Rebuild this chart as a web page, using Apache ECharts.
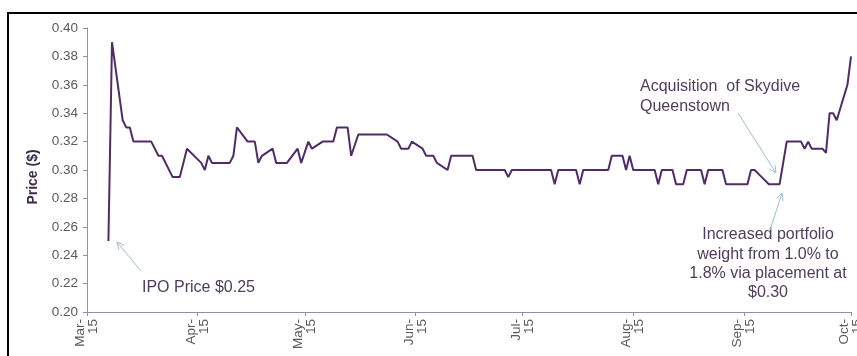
<!DOCTYPE html>
<html>
<head>
<meta charset="utf-8">
<script src="https://cdn.jsdelivr.net/npm/echarts@6/dist/echarts.min.js"></script>
<style>
html,body{margin:0;padding:0;background:#fff;}
#chart{width:857px;height:356px;}
</style>
</head>
<body>
<div id="chart"></div>
<script>
// ---- data ----
const axisStart = '2015-03-01';
const axisEnd = '2015-10-01';
const yTicks = [0.20, 0.22, 0.24, 0.26, 0.28, 0.30, 0.32, 0.34, 0.36, 0.38, 0.40];
const monthNames = ['Jan','Feb','Mar','Apr','May','Jun','Jul','Aug','Sep','Oct','Nov','Dec'];
const priceDates = [
  '2015-03-07','2015-03-08','2015-03-11','2015-03-12','2015-03-13','2015-03-14','2015-03-19','2015-03-21','2015-03-22','2015-03-25',
  '2015-03-27','2015-03-29','2015-04-02','2015-04-03','2015-04-04','2015-04-05','2015-04-10','2015-04-11','2015-04-12','2015-04-15',
  '2015-04-17','2015-04-18','2015-04-19','2015-04-22','2015-04-23','2015-04-26','2015-04-29','2015-04-30','2015-05-02','2015-05-03',
  '2015-05-06','2015-05-09','2015-05-10','2015-05-13','2015-05-14','2015-05-16','2015-05-24','2015-05-27','2015-05-28','2015-05-30',
  '2015-05-31','2015-06-03','2015-06-04','2015-06-06','2015-06-07','2015-06-10','2015-06-11','2015-06-17','2015-06-18','2015-06-26',
  '2015-06-27','2015-06-28','2015-07-09','2015-07-10','2015-07-11','2015-07-16','2015-07-17','2015-07-18','2015-07-25','2015-07-26',
  '2015-07-29','2015-07-30','2015-07-31','2015-08-01','2015-08-07','2015-08-08','2015-08-09','2015-08-12','2015-08-13','2015-08-15',
  '2015-08-16','2015-08-20','2015-08-21','2015-08-22','2015-08-26','2015-08-27','2015-09-02','2015-09-03','2015-09-04','2015-09-06',
  '2015-09-08','2015-09-11','2015-09-13','2015-09-17','2015-09-18','2015-09-19','2015-09-20','2015-09-23','2015-09-24','2015-09-25',
  '2015-09-26','2015-09-27','2015-09-30','2015-10-01'
];
const prices = [
  0.25,0.39,0.335,0.33,0.33,0.32,0.32,0.31,0.31,0.295,
  0.295,0.315,0.305,0.30,0.31,0.305,0.305,0.31,0.33,0.32,
  0.32,0.305,0.31,0.315,0.305,0.305,0.315,0.305,0.32,0.315,
  0.32,0.32,0.33,0.33,0.31,0.325,0.325,0.32,0.315,0.315,
  0.32,0.315,0.31,0.31,0.305,0.30,0.31,0.31,0.30,0.30,
  0.295,0.30,0.30,0.29,0.30,0.30,0.29,0.30,0.30,0.31,
  0.31,0.30,0.31,0.30,0.30,0.29,0.30,0.30,0.29,0.29,
  0.30,0.30,0.29,0.30,0.30,0.29,0.29,0.30,0.30,0.295,
  0.29,0.29,0.32,0.32,0.315,0.32,0.315,0.315,0.312,0.34,
  0.34,0.335,0.36,0.38
];
const yAxisTitle = 'Price ($)';
const noteIPO = 'IPO Price $0.25';
const noteAcq = 'Acquisition  of Skydive\nQueenstown';
const notePlacement = 'Increased portfolio\nweight from 1.0% to\n1.8% via placement at\n$0.30';

// ---- build calendar categories ----
function iso(d){ return d.toISOString().slice(0,10); }
const categories = [];
for (let d = new Date(axisStart + 'T00:00:00Z'); iso(d) <= axisEnd; d.setUTCDate(d.getUTCDate()+1)) {
  categories.push(iso(d));
}
const seriesData = priceDates.map((dt, i) => [categories.indexOf(dt), prices[i]]);

const isMonthStart = (idx, val) => val.slice(8) === '01';

// ---- annotation helpers ----
const arrowColor = '#9dbfd3';
const noteColor = '#4d3d5c';
function arrow(x1, y1, x2, y2) {
  const ang = Math.atan2(y2 - y1, x2 - x1), L = 8, a = Math.PI / 7;
  const p1 = [x2 - L * Math.cos(ang - a), y2 - L * Math.sin(ang - a)];
  const p2 = [x2 - L * Math.cos(ang + a), y2 - L * Math.sin(ang + a)];
  return [
    {type:'line', shape:{x1, y1, x2, y2}, style:{stroke:arrowColor, lineWidth:1}, z:10},
    {type:'polyline', shape:{points:[p1,[x2,y2],p2]}, style:{stroke:arrowColor, fill:null, lineWidth:1}, z:10}
  ];
}
const font = '"Liberation Sans", Arial, sans-serif';

const chart = echarts.init(document.getElementById('chart'), null, {renderer:'canvas'});
chart.setOption({
  animation: false,
  backgroundColor: '#fff',
  grid: {left: 87, right: 6, top: 28, bottom: 44, containLabel: false, outerBoundsMode: 'none'},
  xAxis: {
    type: 'category',
    data: categories,
    boundaryGap: false,
    axisLine: {lineStyle: {color: '#9b8aa9', width: 1}},
    axisTick: {show: true, interval: isMonthStart, length: 4, lineStyle: {color: '#9b8aa9'}},
    axisLabel: {
      interval: isMonthStart,
      rotate: 90,
      margin: 7,
      color: '#5a5a5a',
      fontFamily: font,
      fontSize: 13.5,
      lineHeight: 13,
      hideOverlap: false,
      formatter: v => monthNames[parseInt(v.slice(5,7),10)-1] + '-\n' + v.slice(2,4)
    },
    splitLine: {show: false}
  },
  yAxis: {
    type: 'value',
    min: yTicks[0],
    max: yTicks[yTicks.length-1],
    interval: 0.02,
    axisLine: {show: true, lineStyle: {color: '#9b8aa9', width: 1}},
    axisTick: {show: true, length: 4, lineStyle: {color: '#9b8aa9'}},
    axisLabel: {color: '#5a5a5a', fontFamily: font, fontSize: 13.5, margin: 9, formatter: v => v.toFixed(2)},
    splitLine: {show: false}
  },
  series: [{
    type: 'line',
    data: seriesData,
    symbol: 'none',
    lineStyle: {color: '#4f2c66', width: 2},
    z: 5
  }],
  graphic: [
    {type:'line', shape:{x1:7, y1:13, x2:857, y2:13}, style:{stroke:'#000', lineWidth:2}},
    {type:'line', shape:{x1:8, y1:12, x2:8, y2:356}, style:{stroke:'#000', lineWidth:2}},
    {type:'text', x:33, y:177, rotation:Math.PI/2,
      style:{text:yAxisTitle, fill:'#3b2a4a', font:'bold 14px ' + font, align:'center', verticalAlign:'middle'}},
    {type:'text', x:142, y:288,
      style:{text:noteIPO, fill:noteColor, font:'16px ' + font, align:'left', verticalAlign:'middle'}},
    {type:'text', x:640, y:77,
      style:{text:noteAcq, fill:noteColor, font:'16px ' + font, lineHeight:19.5, align:'left', verticalAlign:'top'}},
    {type:'text', x:768, y:225,
      style:{text:notePlacement, fill:noteColor, font:'16px ' + font, lineHeight:19.4, align:'center', verticalAlign:'top'}},
    ...arrow(141, 271, 117, 242),
    ...arrow(738, 113, 776, 173),
    ...arrow(770, 230, 782, 193)
  ]
});
</script>
</body>
</html>
